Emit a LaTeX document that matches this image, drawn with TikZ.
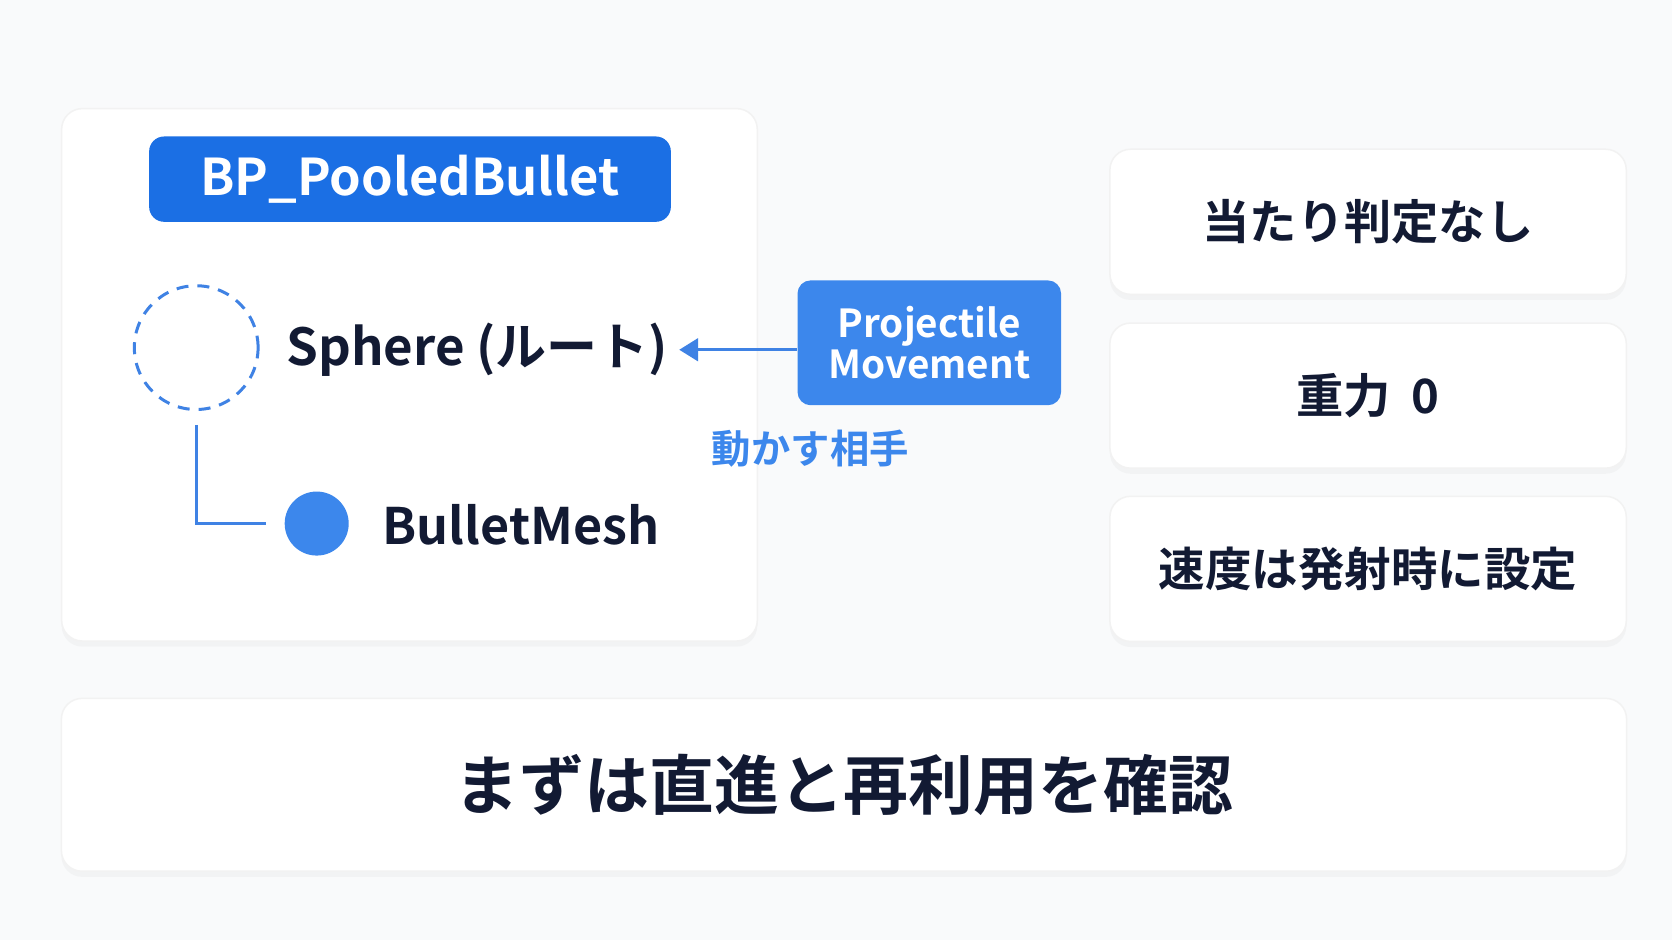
\documentclass[tikz,border=0pt]{standalone}
\usepackage{fontspec}
\setmainfont{Noto Sans CJK JP}[BoldFont={Noto Sans CJK JP Bold}]
\usepackage{tikz}
\usetikzlibrary{shadows, arrows.meta}

\definecolor{pagebg}{HTML}{F9FAFB}
\definecolor{titleblue}{HTML}{1B6FE4}
\definecolor{moveblue}{HTML}{3C87EC}
\definecolor{lineblue}{HTML}{3F82E4}
\definecolor{inkdark}{HTML}{121A33}

\tikzset{
  card/.style={draw=black!5, fill=white, rounded corners=5.5pt,
    drop shadow={opacity=0.05, shadow xshift=0pt, shadow yshift=-1.5pt}},
  label/.style={font=\bfseries, text=inkdark},
  link/.style={draw=lineblue, line width=0.8pt}
}

\begin{document}
\begin{tikzpicture}[x=0.01cm, y=-0.01cm]
    % Background and frame
    \fill[pagebg] (0,0) rectangle (1568,882);
    \useasboundingbox (0,0) rectangle (1568,882);

    % Draw the cards
    \node[card, minimum width=6.52cm, minimum height=4.99cm] (blueprint) at (384,351.5) {};
    \node[card, minimum width=4.84cm, minimum height=1.36cm] (nohit) at (1283,208) {};
    \node[card, minimum width=4.84cm, minimum height=1.36cm] (gravity) at (1283,371) {};
    \node[card, minimum width=4.84cm, minimum height=1.36cm] (speed) at (1283,533.5) {};
    \node[card, minimum width=14.67cm, minimum height=1.62cm] (goal) at (791.5,736) {};

    % Title of the blueprint
    \node[fill=titleblue, rounded corners=4pt, minimum width=4.89cm, minimum height=0.8cm,
          text=white, font=\bfseries\fontsize{13.5}{16}\selectfont] (title) at (384.5,168) {BP\_PooledBullet};

    % Component tree
    \node[circle, draw=lineblue, dash pattern=on 3.2pt off 2.4pt, line width=0.8pt, minimum size=1.16cm] (root) at (184,326) {};
    \node[label, anchor=west, inner xsep=0pt, font=\bfseries\fontsize{13.6}{16}\selectfont] (rootlabel) at (268,328) {Sphere (ルート)};
    \node[circle, fill=moveblue, minimum size=0.6cm] (mesh) at (297,491) {};
    \node[label, anchor=west, inner xsep=0pt, font=\bfseries\fontsize{13.4}{16}\selectfont] (meshlabel) at (358,492) {BulletMesh};
    \draw[link, shorten <=0.13cm, shorten >=0.17cm] (root.south) |- (mesh.west);

    % Movement component and its arrow
    \node[fill=moveblue, rounded corners=3.5pt, minimum width=2.47cm, minimum height=1.17cm,
          text=white, align=center, font=\bfseries\fontsize{10.3}{11}\selectfont] (mover) at (871.5,321.5) {Projectile\\Movement};
    \draw[link, shorten >=0.1cm, -{Triangle[length=5pt, width=6pt]}] (rootlabel.east -| mover.west) -- (rootlabel.east);
    \node[text=moveblue, font=\bfseries\fontsize{10.5}{12}\selectfont] (target) at (760,421) {動かす相手};

    % Texts of the right cards
    \node[label, font=\bfseries\fontsize{12.6}{15}\selectfont] at (nohit) {当たり判定なし};
    \node[label, font=\bfseries\fontsize{12.6}{15}\selectfont] at (gravity) {重力\hspace{0.45em}0};
    \node[label, font=\bfseries\fontsize{12.4}{15}\selectfont] at (speed) {速度は発射時に設定};
    \node[label, font=\bfseries\fontsize{17.3}{20}\selectfont] at (goal) {まずは直進と再利用を確認};
\end{tikzpicture}
\end{document}
